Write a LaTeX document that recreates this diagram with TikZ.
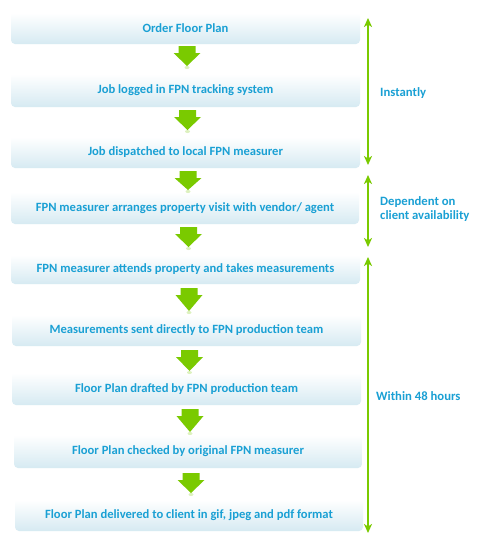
\documentclass[tikz,border=0pt]{standalone}
\usepackage{fontspec}
\setmainfont{Carlito}
\usetikzlibrary{arrows.meta}
\definecolor{txtblue}{RGB}{26,160,212}
\definecolor{agreen}{RGB}{122,202,0}
\definecolor{boxbot}{RGB}{214,234,242}
\tikzset{
  stepbox/.style={rectangle, rounded corners=4pt, top color=white, bottom color=boxbot,
    draw=none, inner sep=0pt, text=txtblue, font=\bfseries\fontsize{12.6}{14}\selectfont},
  sidelabel/.style={anchor=west, text=txtblue, align=left, inner sep=0pt,
    font=\bfseries\fontsize{12.7}{14}\selectfont},
  timearrow/.style={draw=agreen, line width=2pt, {Stealth[length=9pt,width=8pt,inset=2.5pt]}-{Stealth[length=9pt,width=8pt,inset=2.5pt]}},
}
\newcommand\fatarrow[4]{% name, x, top, tip
  \coordinate (#1) at (#2,#3);
  \fill[agreen] (#2-8.5,#3) -- (#2+8.5,#3) -- (#2+8.5,#3+7) -- (#2+13.5,#3+7)
     -- (#2,#4) -- (#2-13.5,#3+7) -- (#2-8.5,#3+7) -- cycle;
  \fill[agreen, opacity=0.25] (#2,#4+1.5) ellipse (2.5 and 1.5);
}
\newcommand\stepnode[6]{% name, left, top, right, bottom, text
  \node[stepbox, minimum width={(#4-#2)*1pt}, minimum height={(#5-#3)*1pt}]
    (#1) at ({(#2+#4)/2},{(#3+#5)/2}) {#6};
}
\begin{document}
\begin{tikzpicture}[x=1pt,y=-1pt]
\useasboundingbox (0,0) rectangle (480,544);
\fill[white] (0,0) rectangle (480,544);

\stepnode{b1}{11}{13}{360}{44}{Order Floor Plan}
\stepnode{b2}{11}{74}{360}{107}{Job logged in FPN tracking system}
\stepnode{b3}{11}{137}{360}{168}{Job dispatched to local FPN measurer}
\stepnode{b4}{11}{192}{359}{224}{FPN measurer arranges property visit with vendor/ agent}
\stepnode{b5}{11}{255}{360}{284}{FPN measurer attends property and takes measurements}
\stepnode{b6}{12}{315}{361}{346}{Measurements sent directly to FPN production team}
\stepnode{b7}{12}{373}{361}{405}{Floor Plan drafted by FPN production team}
\stepnode{b8}{14}{435}{362}{468}{Floor Plan checked by original FPN measurer}
\stepnode{b9}{15}{500}{363}{531}{Floor Plan delivered to client in gif, jpeg and pdf format}

\fatarrow{a1}{187}{46}{66}
\fatarrow{a2}{187.5}{110}{130}
\fatarrow{a3}{188}{171}{190}
\fatarrow{a4}{188.5}{227}{247}
\fatarrow{a5}{189}{288}{311}
\fatarrow{a6}{189.5}{350}{371}
\fatarrow{a7}{190}{409}{432}
\fatarrow{a8}{191}{473}{493}

\coordinate (t1a) at (368,18);
\coordinate (t1b) at (368,165);
\coordinate (t2a) at (368,175);
\coordinate (t2b) at (368,247);
\coordinate (t3a) at (368,257);
\coordinate (t3b) at (368,533);
\draw[timearrow] (t1a) -- (t1b);
\draw[timearrow] (t2a) -- (t2b);
\draw[timearrow] (t3a) -- (t3b);

\node[sidelabel] (l1) at (380,93) {Instantly};
\node[sidelabel] (l2) at (380,209) {Dependent on\\client availability};
\node[sidelabel] (l3) at (376,396) {Within 48 hours};
\end{tikzpicture}
\end{document}
